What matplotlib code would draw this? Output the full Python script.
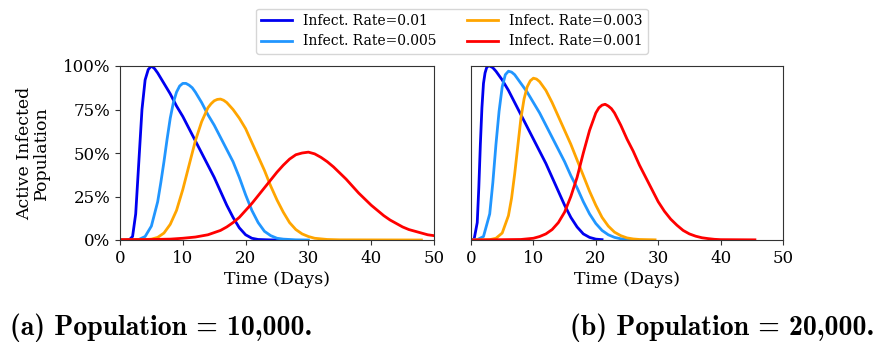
import matplotlib
matplotlib.use("Agg")
import matplotlib.pyplot as plt
from matplotlib.ticker import FuncFormatter

plt.rcParams['font.family'] = ['DejaVu Serif']

labels = ["Infect. Rate=0.01", "Infect. Rate=0.005", "Infect. Rate=0.003", "Infect. Rate=0.001"]
colors = ["#0000F0", "#2196FF", "#FFA500", "#FF0000"]
captions = ["(a) Population = 10,000.", "(b) Population = 20,000."]

# ---- Panel (a): Population = 10,000 ----
a_blue_x = [0, 1, 1.5, 2, 2.5, 3, 3.5, 4, 4.5, 5, 5.5, 6, 7, 8, 9, 10, 11, 12, 13, 14, 15, 16, 17, 18, 19, 20, 21, 22, 24, 26]
a_blue_y = [0, 0, 0.2, 2, 15, 45, 75, 92, 98, 100, 98.5, 96, 90, 84, 77, 71, 64, 57, 50, 43, 36, 28, 20, 13, 7, 3, 1, 0.3, 0.05, 0]
a_lblue_x = [0, 2, 3, 4, 5, 6, 6.5, 7, 7.5, 8, 8.5, 9, 9.5, 10, 10.5, 11, 11.5, 12, 13, 14, 15, 16, 17, 18, 19, 20, 21, 22, 23, 24, 25, 26, 28, 30]
a_lblue_y = [0, 0, 0.3, 2, 8, 22, 33, 45, 58, 70, 79, 85, 88.5, 90, 90, 89, 87.5, 85, 79, 72, 66, 59, 52, 45, 36, 26, 17, 10, 5, 2.5, 1, 0.5, 0.1, 0]
a_orange_x = [0, 4, 5, 6, 7, 8, 9, 10, 11, 12, 13, 14, 14.5, 15, 15.5, 16, 16.5, 17, 18, 19, 20, 21, 22, 23, 24, 25, 26, 27, 28, 29, 30, 31, 33, 35, 48]
a_orange_y = [0, 0.2, 0.5, 1.5, 4, 9, 17, 29, 43, 57, 68, 76, 78.3, 80, 80.8, 81, 80.3, 79, 75, 70, 64, 56, 48, 40, 31, 23, 16, 10, 6, 3.5, 2, 1, 0.3, 0.1, 0]
a_red_x = [0, 5, 8, 10, 12, 14, 16, 17, 18, 19, 20, 21, 22, 23, 24, 25, 26, 27, 28, 29, 30, 31, 32, 33, 34, 35, 36, 37, 38, 39, 40, 41, 42, 43, 44, 45, 46, 47, 48, 49, 50]
a_red_y = [0.2, 0.3, 0.5, 1, 1.7, 3, 5.5, 7.5, 10, 13, 17, 21, 25.5, 30, 34.5, 39, 43, 46.5, 49, 50, 50.5, 49.5, 47.5, 45, 42, 38.5, 35, 31, 27, 23.5, 20, 17, 14, 11.5, 9.5, 7.5, 6, 5, 4, 3, 2.5]

# ---- Panel (b): Population = 20,000 ----
b_blue_x = [0, 0.5, 1, 1.25, 1.5, 1.75, 2, 2.25, 2.5, 2.75, 3, 3.5, 4, 5, 6, 7, 8, 9, 10, 11, 12, 13, 14, 15, 16, 17, 18, 19, 20, 21]
b_blue_y = [0, 0.5, 10, 30, 55, 76, 90, 96, 99, 100, 100, 99, 97, 92, 86, 79, 72, 65, 58, 51, 44, 36, 28, 20, 13, 7.5, 3.5, 1.5, 0.5, 0.2]
b_lblue_x = [0, 1, 2, 3, 3.5, 4, 4.5, 5, 5.5, 6, 6.5, 7, 8, 9, 10, 11, 12, 13, 14, 15, 16, 17, 18, 19, 20, 21, 22, 23, 24, 25, 26]
b_lblue_y = [0, 0.2, 2, 15, 33, 55, 74, 88, 95, 97, 96.5, 95, 90, 85, 79, 73, 66, 59, 52, 45, 37, 30, 22, 15, 9.5, 5.5, 3, 1.5, 0.7, 0.3, 0.1]
b_orange_x = [0, 3, 4, 5, 6, 6.5, 7, 7.5, 8, 8.5, 9, 9.5, 10, 10.5, 11, 12, 13, 14, 15, 16, 17, 18, 19, 20, 21, 22, 23, 24, 25, 26, 27, 29.5]
b_orange_y = [0, 0.2, 1, 4, 14, 24, 38, 54, 70, 81, 88, 91.5, 93, 92.5, 91, 86, 79, 71, 63, 55, 46, 37, 28, 20, 13, 8, 4.5, 2.5, 1.2, 0.6, 0.3, 0.1]
b_red_x = [0, 8, 10, 11, 12, 13, 14, 15, 16, 17, 17.5, 18, 18.5, 19, 20, 20.5, 21, 21.5, 22, 22.5, 23, 24, 25, 26, 27, 28, 29, 30, 31, 32, 33, 34, 35, 36, 37, 38, 39, 40, 45.5]
b_red_y = [0, 0.3, 1, 2, 3.5, 6, 10, 16, 25, 36, 43, 50, 56.5, 63, 73, 76, 77.5, 78, 77, 75.5, 73, 66, 58, 51, 43, 36, 29, 22, 16.5, 12, 8.5, 5.5, 3.5, 2.2, 1.3, 0.8, 0.4, 0.2, 0.1]

x_ticks = [0, 10, 20, 30, 40, 50]
y_ticks = [0, 25, 50, 75, 100]

fig = plt.figure(figsize=(8.79, 3.44), dpi=100)
axa = fig.add_axes([120/879, 1-240/344, 314/879, 174/344])
axb = fig.add_axes([471/879, 1-240/344, 312/879, 174/344])

series_a = [(a_blue_x, a_blue_y), (a_lblue_x, a_lblue_y), (a_orange_x, a_orange_y), (a_red_x, a_red_y)]
series_b = [(b_blue_x, b_blue_y), (b_lblue_x, b_lblue_y), (b_orange_x, b_orange_y), (b_red_x, b_red_y)]

handles = []
for ax, series in ((axa, series_a), (axb, series_b)):
    for (x, y), c, lab in zip(series, colors, labels):
        h, = ax.plot(x, y, color=c, lw=2, label=lab, solid_joinstyle='round')
        if ax is axa:
            handles.append(h)
    ax.set_xlim(0, 50)
    ax.set_ylim(0, 100)
    ax.set_xticks(x_ticks)
    ax.set_xlabel("Time (Days)", fontsize=12.5, labelpad=3)
    ax.tick_params(labelsize=12, length=3.5, pad=3.5, color='#333333')
    for s in ax.spines.values():
        s.set_color('#333333')

axa.set_yticks(y_ticks)
axa.yaxis.set_major_formatter(FuncFormatter(lambda v, p: f"{int(v)}%"))
axa.set_ylabel("Active Infected\nPopulation", fontsize=12.5, labelpad=9, linespacing=1.0)
axb.set_yticks([])

fig.legend(handles=handles, loc='upper center', bbox_to_anchor=(452/879, 0.995), ncol=2,
           fontsize=10, frameon=True, edgecolor='#cccccc', handlelength=2.2,
           columnspacing=2.2, borderpad=0.4, labelspacing=0.45)

fig.text(10/879, 1-328/344, captions[0], fontsize=20, fontfamily='cmb10', va='center', ha='left')
fig.text(874/879, 1-328/344, captions[1], fontsize=20, fontfamily='cmb10', va='center', ha='right')

fig.savefig("out.png", dpi=100)
